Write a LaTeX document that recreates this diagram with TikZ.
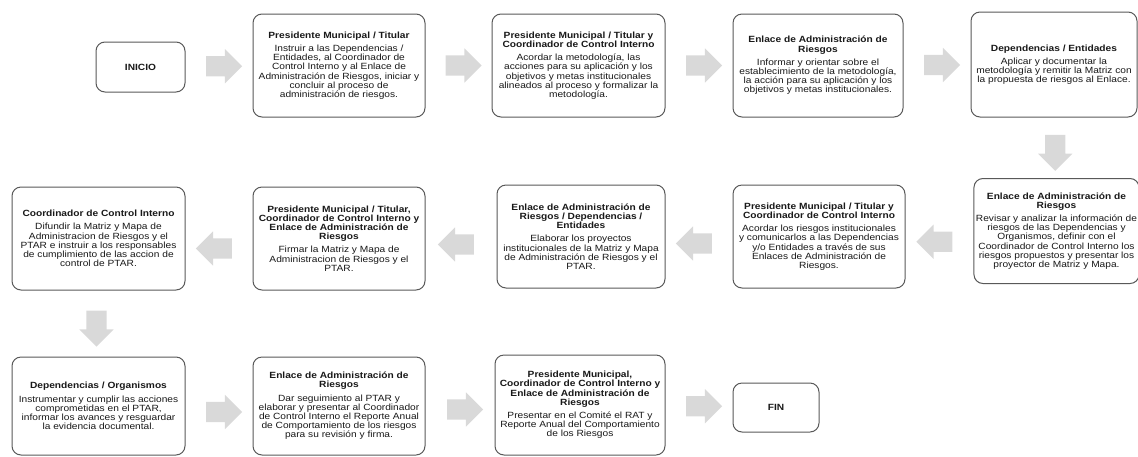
\documentclass[tikz,border=0pt]{standalone}
\usepackage{fontspec}
\setmainfont{Liberation Sans}[FakeStretch=1.13]
\usetikzlibrary{shapes.arrows,calc}

% title block (one bold line per argument line) followed by the body text
\newcommand\steptext[2]{#1\\[4pt]#2}
\newcommand\tl[1]{\textbf{#1}}

\tikzset{
  stepbox/.style={draw=black!65, line width=1pt, rounded corners=9pt, fill=white,
    align=center, inner sep=2pt, text=black!90,
    font=\fontsize{9}{9.2}\selectfont},
  blockarrow/.style={single arrow, draw=none, fill=gray!30,
    minimum height=36pt, single arrow head extend=7pt},
  rarrow/.style={blockarrow, inner xsep=0pt, inner ysep=10pt, shape border rotate=0},
  larrow/.style={blockarrow, inner xsep=0pt, inner ysep=10pt, shape border rotate=180},
  darrow/.style={blockarrow, inner xsep=10pt, inner ysep=0pt, shape border rotate=270},
}

\begin{document}
\begin{tikzpicture}[x=1pt, y=-1pt]
\useasboundingbox (0,0) rectangle (1138,456);

% ---- first row: left to right ----
\node[stepbox, minimum width=89pt, minimum height=50pt] (b1) at (140.5,67) {\tl{INICIO}};
\node[stepbox, minimum width=172pt, minimum height=103pt] (b2) at (339,65.5)
  {\steptext{\tl{Presidente Municipal / Titular}}{Instruir a las Dependencias /\\ Entidades, al Coordinador de\\ Control Interno y al Enlace de\\ Administración de Riesgos, iniciar y\\ concluir al proceso de\\ administración de riesgos.}};
\node[stepbox, minimum width=173pt, minimum height=103pt] (b3) at (578.5,65.5)
  {\steptext{\tl{Presidente Municipal / Titular y}\\ \tl{Coordinador de Control Interno}}{Acordar la metodología, las\\ acciones para su aplicación y los\\ objetivos y metas institucionales\\ alineados al proceso y formalizar la\\ metodología.}};
\node[stepbox, minimum width=170pt, minimum height=103pt] (b4) at (818,65.5)
  {\steptext{\tl{Enlace de Administración de}\\ \tl{Riesgos}}{Informar y orientar sobre el\\ establecimiento de la metodología,\\ la acción para su aplicación y los\\ objetivos y metas institucionales.}};
\node[stepbox, minimum width=166pt, minimum height=105pt] (b5) at (1054,64.5)
  {\steptext{\tl{Dependencias / Entidades}}{Aplicar y documentar la\\ metodología y remitir la Matriz con\\ la propuesta de riesgos al Enlace.}};

% ---- second row: right to left ----
\node[stepbox, minimum width=161pt, minimum height=105pt] (c5) at (1056.5,231)
  {\steptext{\tl{Enlace de Administración de}\\ \tl{Riesgos}}{Revisar y analizar la información de\\ riesgos de las Dependencias y\\ Organismos, definir con el\\ Coordinador de Control Interno los\\ riesgos propuestos y presentar los\\ proyector de Matriz y Mapa.}};
\node[stepbox, minimum width=172pt, minimum height=103pt] (c4) at (819,236.5)
  {\steptext{\tl{Presidente Municipal / Titular y}\\ \tl{Coordinador de Control Interno}}{Acordar los riesgos institucionales\\ y comunicarlos a las Dependencias\\ y/o Entidades a través de sus\\ Enlaces de Administración de\\ Riesgos.}};
\node[stepbox, minimum width=168pt, minimum height=103pt] (c3) at (581,236.5)
  {\steptext{\tl{Enlace de Administración de}\\ \tl{Riesgos / Dependencias /}\\ \tl{Entidades}}{Elaborar los proyectos\\ institucionales de la Matriz y Mapa\\ de Administración de Riesgos y el\\ PTAR.}};
\node[stepbox, minimum width=172pt, minimum height=103pt] (c2) at (339,238.5)
  {\steptext{\tl{Presidente Municipal / Titular,}\\ \tl{Coordinador de Control Interno y}\\ \tl{Enlace de Administración de}\\ \tl{Riesgos}}{Firmar la Matriz y Mapa de\\ Administracion de Riesgos y el\\ PTAR.}};
\node[stepbox, minimum width=173pt, minimum height=103pt] (c1) at (98.5,238.5)
  {\steptext{\tl{Coordinador de Control Interno}}{Difundir la Matriz y Mapa de\\ Administracion de Riesgos y el\\ PTAR e instruir a los responsables\\ de cumplimiento de las accion de\\ control de PTAR.}};

% ---- third row: left to right ----
\node[stepbox, minimum width=173pt, minimum height=98pt] (d1) at (98.5,406)
  {\steptext{\tl{Dependencias / Organismos}}{Instrumentar y cumplir las acciones\\ comprometidas en el PTAR,\\ informar los avances y resguardar\\ la evidencia documental.}};
\node[stepbox, minimum width=172pt, minimum height=98pt] (d2) at (339,406)
  {\steptext{\tl{Enlace de Administración de}\\ \tl{Riesgos}}{Dar seguimiento al PTAR y\\ elaborar y presentar al Coordinador\\ de Control Interno el Reporte Anual\\ de Comportamiento de los riesgos\\ para su revisión y firma.}};
\node[stepbox, minimum width=170pt, minimum height=100pt] (d3) at (580,405)
  {\steptext{\tl{Presidente Municipal,}\\ \tl{Coordinador de Control Interno y}\\ \tl{Enlace de Administración de}\\ \tl{Riesgos}}{Presentar en el Comité el RAT y\\ Reporte Anual del Comportamiento\\ de los Riesgos}};
\node[stepbox, minimum width=86pt, minimum height=49pt] (fin) at (776,407.5) {\tl{FIN}};

% ---- block arrows between the steps ----
\node[rarrow] (a12) at ($(b1.east)!0.5!(b2.west)$) {};
\node[rarrow] (a23) at ($(b2.east)!0.5!(b3.west)$) {};
\node[rarrow] (a34) at ($(b3.east)!0.5!(b4.west)$) {};
\node[rarrow] (a45) at ($(b4.east)!0.5!(b5.west)$) {};
\node[darrow] (a5c) at ($(b5.south)!0.5!(c5.north)$) {};
\node[larrow, yshift=-8pt] (ac54) at ($(c5.west)!0.5!(c4.east)$) {};
\node[larrow, yshift=-7pt] (ac43) at ($(c4.west)!0.5!(c3.east)$) {};
\node[larrow, yshift=-7pt] (ac32) at ($(c3.west)!0.5!(c2.east)$) {};
\node[larrow, yshift=-10pt] (ac21) at ($(c2.west)!0.5!(c1.east)$) {};
\node[darrow, xshift=-2pt] (acd) at ($(c1.south)!0.5!(d1.north)$) {};
\node[rarrow, yshift=-6pt] (ad12) at ($(d1.east)!0.5!(d2.west)$) {};
\node[rarrow, yshift=-4pt] (ad23) at ($(d2.east)!0.5!(d3.west)$) {};
\node[rarrow] (ad3f) at ($(d3.east)!0.5!(fin.west)$) {};
\end{tikzpicture}
\end{document}
